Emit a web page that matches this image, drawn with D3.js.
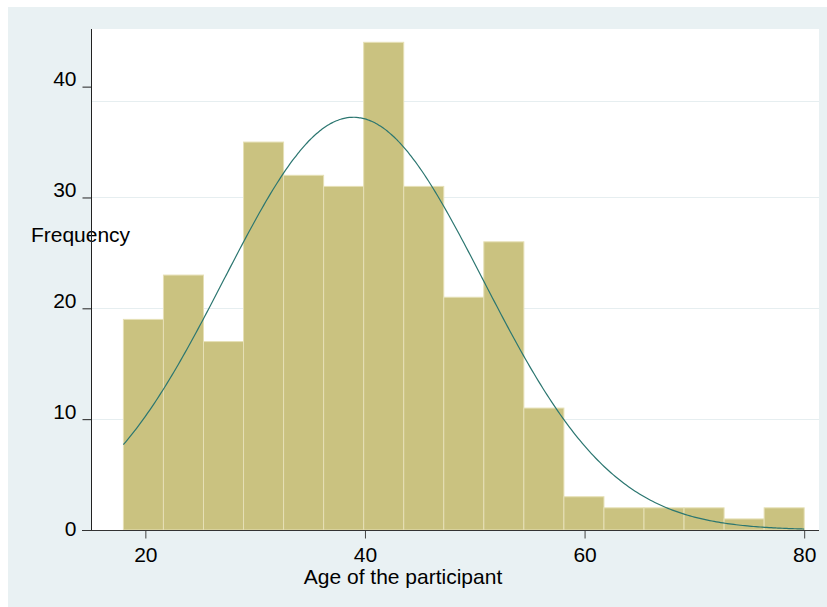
<!DOCTYPE html>
<html>
<head>
<meta charset="utf-8">
<script src="https://cdn.jsdelivr.net/npm/d3@7"></script>
<style>
  body { margin: 0; background: #ffffff; }
  svg text { font-family: "Liberation Sans", Arial, Helvetica, sans-serif; fill: #000; }
</style>
</head>
<body>
<svg id="chart" width="827" height="607"></svg>
<script>
// histogram of participant age, 17 bins from 18 to 80
var ageMin = 18;
var ageMax = 80;
var counts = [19, 23, 17, 35, 32, 31, 44, 31, 21, 26, 11, 3, 2, 2, 2, 1, 2];

// fitted normal curve parameters
var meanAge = 38.95;
var sdAge = 11.8;

var xTicks = [20, 40, 60, 80];
var yTicks = [0, 10, 20, 30, 40];
var gridLines = [10, 20, 30, 38.7];

var xTitle = "Age of the participant";
var yTitle = "Frequency";

var svg = d3.select("#chart");

var plot = {left: 91, right: 819, top: 29, bottom: 530};

// outer graph region
svg.append("rect")
    .attr("x", 8).attr("y", 7)
    .attr("width", 827 - 8).attr("height", 607 - 7)
    .attr("fill", "#e9f1f3");

// plot region
svg.append("rect")
    .attr("x", plot.left).attr("y", plot.top)
    .attr("width", plot.right - plot.left).attr("height", plot.bottom - plot.top)
    .attr("fill", "#ffffff");

var x = d3.scaleLinear().domain([15.05, 81.35]).range([plot.left, plot.right]);
var y = d3.scaleLinear().domain([0, 45.2]).range([plot.bottom, plot.top]);

// grid
svg.append("g").selectAll("line")
    .data(gridLines)
    .enter().append("line")
    .attr("x1", plot.left).attr("x2", plot.right)
    .attr("y1", function(d) { return Math.round(y(d)) + 0.5; })
    .attr("y2", function(d) { return Math.round(y(d)) + 0.5; })
    .attr("stroke", "#e6eef0")
    .attr("stroke-width", 1);

// bars
var binWidth = (ageMax - ageMin) / counts.length;
var bins = counts.map(function(c, i) {
    return {x0: ageMin + i * binWidth, x1: ageMin + (i + 1) * binWidth, count: c};
});

svg.append("g").selectAll("rect")
    .data(bins)
    .enter().append("rect")
    .attr("x", function(d) { return x(d.x0); })
    .attr("y", function(d) { return y(d.count); })
    .attr("width", function(d) { return x(d.x1) - x(d.x0); })
    .attr("height", function(d) { return y(0) - y(d.count); })
    .attr("fill", "#cac280")
    .attr("stroke", "#e6e0b6")
    .attr("stroke-width", 1);

// normal density scaled to frequency
var total = d3.sum(counts);
function normalFreq(v) {
    var z = (v - meanAge) / sdAge;
    return total * binWidth * Math.exp(-0.5 * z * z) / (sdAge * Math.sqrt(2 * Math.PI));
}
var curvePts = d3.range(ageMin, ageMax + 0.001, 0.2).map(function(v) {
    return [v, normalFreq(v)];
});

svg.append("path")
    .datum(curvePts)
    .attr("d", d3.line()
        .x(function(d) { return x(d[0]); })
        .y(function(d) { return y(d[1]); })
        .curve(d3.curveMonotoneX))
    .attr("fill", "none")
    .attr("stroke", "#2b7670")
    .attr("stroke-width", 1.2);

// y axis
var yAxis = svg.append("g")
    .attr("transform", "translate(" + (plot.left + 0.5) + ",0)")
    .call(d3.axisLeft(y).tickValues(yTicks).tickSize(9).tickPadding(6).tickFormat(d3.format("d")));
yAxis.select(".domain").remove();
yAxis.selectAll(".tick line").attr("stroke", "#222");
yAxis.selectAll(".tick text")
    .attr("font-size", "21px")
    .attr("dy", function(d) { return d == 0 ? "5px" : "-1px"; });

svg.append("line")
    .attr("x1", plot.left + 0.5).attr("x2", plot.left + 0.5)
    .attr("y1", plot.top).attr("y2", plot.bottom)
    .attr("stroke", "#222");

// x axis
var xAxis = svg.append("g")
    .attr("transform", "translate(0," + (plot.bottom + 0.5) + ")")
    .call(d3.axisBottom(x).tickValues(xTicks).tickSize(8).tickPadding(4));
xAxis.select(".domain").remove();
xAxis.selectAll(".tick line").attr("stroke", "#444");
xAxis.selectAll(".tick text").attr("font-size", "21px").attr("dy", "0.95em");

svg.append("line")
    .attr("x1", plot.left - 9).attr("x2", plot.right)
    .attr("y1", plot.bottom + 0.5).attr("y2", plot.bottom + 0.5)
    .attr("stroke", "#333");

// titles
svg.append("text")
    .attr("x", 403).attr("y", 584)
    .attr("text-anchor", "middle")
    .attr("font-size", "21px")
    .text(xTitle);

svg.append("text")
    .attr("x", 80.5).attr("y", 242)
    .attr("text-anchor", "middle")
    .attr("font-size", "21px")
    .text(yTitle);

// redraw y axis line over the title, as in the original
svg.append("line")
    .attr("x1", plot.left + 0.5).attr("x2", plot.left + 0.5)
    .attr("y1", plot.top).attr("y2", plot.bottom)
    .attr("stroke", "#222");
</script>
</body>
</html>
